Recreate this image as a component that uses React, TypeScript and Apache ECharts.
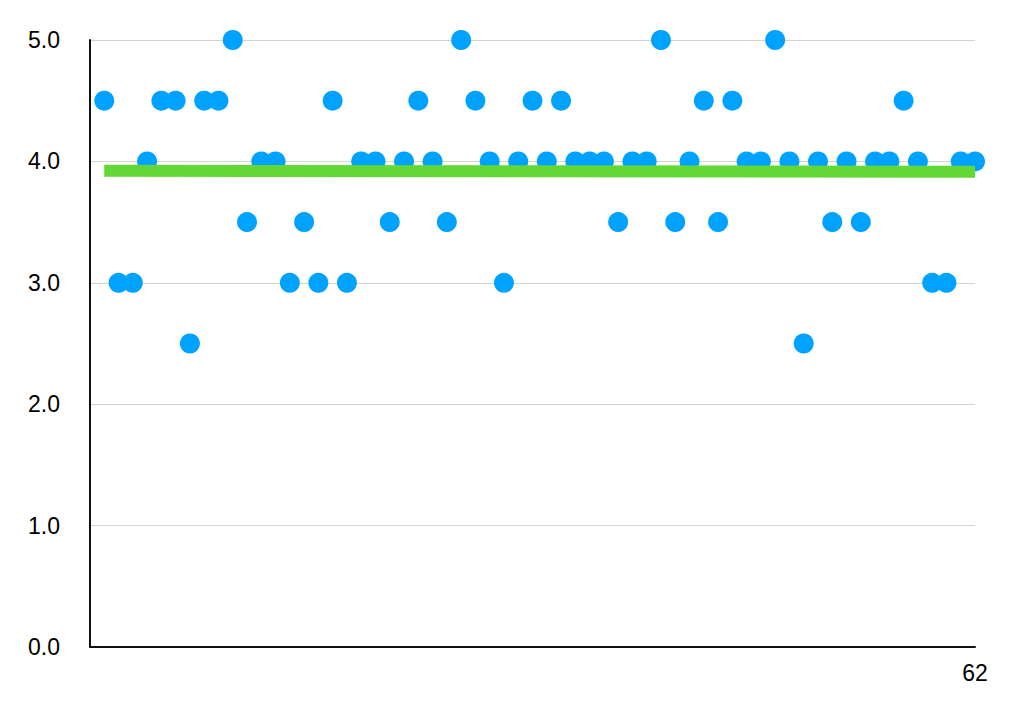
import React, { useEffect, useRef } from "react";
import * as echarts from "echarts";

const xValues: number[] = Array.from({ length: 62 }, (_, i) => i + 1);
const ratings: number[] = [
  4.5, 3, 3, 4, 4.5, 4.5, 2.5, 4.5, 4.5, 5,
  3.5, 4, 4, 3, 3.5, 3, 4.5, 3, 4, 4,
  3.5, 4, 4.5, 4, 3.5, 5, 4.5, 4, 3, 4,
  4.5, 4, 4.5, 4, 4, 4, 3.5, 4, 4, 5,
  3.5, 4, 4.5, 3.5, 4.5, 4, 4, 5, 4, 2.5,
  4, 3.5, 4, 3.5, 4, 4, 4.5, 4, 3, 3,
  4, 4,
];
const yTicks: number[] = [0, 1, 2, 3, 4, 5];
const xEndLabel = 62;

function linearFit(xs: number[], ys: number[]) {
  const n = xs.length;
  const mx = xs.reduce((a, b) => a + b, 0) / n;
  const my = ys.reduce((a, b) => a + b, 0) / n;
  let sxy = 0;
  let sxx = 0;
  for (let i = 0; i < n; i++) {
    sxy += (xs[i] - mx) * (ys[i] - my);
    sxx += (xs[i] - mx) * (xs[i] - mx);
  }
  const slope = sxy / sxx;
  return (x: number) => my + slope * (x - mx);
}

export default function App() {
  const ref = useRef<HTMLDivElement>(null);
  useEffect(() => {
    if (!ref.current) return;
    const chart = echarts.init(ref.current, null, { renderer: "svg" });
    const fit = linearFit(xValues, ratings);
    const x0 = xValues[0];
    const x1 = xValues[xValues.length - 1];
    const font = "Liberation Sans, Arial, Helvetica, sans-serif";
    chart.setOption({
      animation: false,
      backgroundColor: "#ffffff",
      grid: { left: 90, right: 49, top: 40, bottom: 56, containLabel: false },
      xAxis: {
        type: "value",
        min: 0,
        max: xEndLabel,
        interval: xEndLabel,
        axisLine: { show: true, lineStyle: { color: "#111111", width: 2 } },
        axisTick: { show: false },
        splitLine: { show: false },
        axisLabel: {
          showMinLabel: false,
          formatter: (v: number) => (v === xEndLabel ? String(xEndLabel) : ""),
          color: "#000000",
          fontSize: 23,
          fontFamily: font,
          margin: 14,
        },
      },
      yAxis: {
        type: "value",
        min: yTicks[0],
        max: yTicks[yTicks.length - 1],
        interval: 1,
        axisLine: { show: true, lineStyle: { color: "#111111", width: 2 } },
        axisTick: { show: false },
        splitLine: { show: true, lineStyle: { color: "#d4d4d4", width: 1 } },
        axisLabel: {
          formatter: (v: number) => v.toFixed(1),
          color: "#000000",
          fontSize: 23,
          fontFamily: font,
          margin: 30,
          padding: [6, 0, 0, 0],
        },
      },
      series: [
        {
          type: "scatter",
          data: xValues.map((x, i) => [x, ratings[i]]),
          symbol: "circle",
          symbolSize: 20,
          itemStyle: { color: "#00a2ff", opacity: 1 },
          z: 2,
        },
        {
          type: "line",
          data: [
            [x0, fit(x0)],
            [x1, fit(x1)],
          ],
          showSymbol: false,
          symbol: "none",
          lineStyle: { color: "#61d836", width: 12, cap: "butt", opacity: 1 },
          z: 3,
        },
      ],
    });
    return () => chart.dispose();
  }, []);
  return (
    <div
      ref={ref}
      style={{ position: "fixed", left: 0, top: 0, width: 1024, height: 703 }}
    />
  );
}
